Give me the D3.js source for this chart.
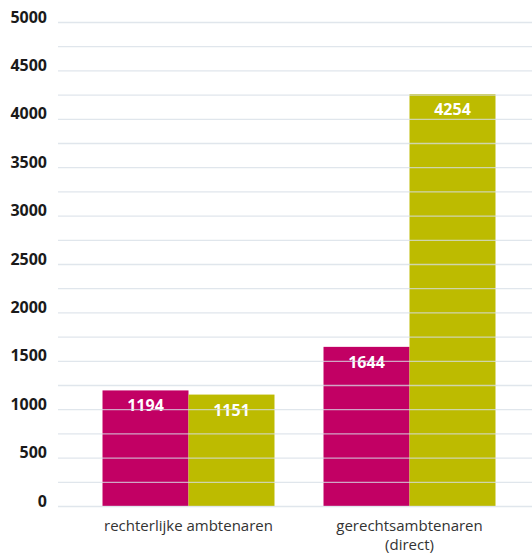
<!DOCTYPE html>
<html>
<head>
<meta charset="utf-8">
<script src="https://cdn.jsdelivr.net/npm/d3@7"></script>
<style>
  body { margin: 0; background: #fff; }
  text { font-family: "Open Sans", sans-serif; }
</style>
</head>
<body>
<div id="chart"></div>
<script>
// data
var categories = [["rechterlijke ambtenaren"], ["gerechtsambtenaren", "(direct)"]];
var seriesA = [1194, 1644];
var seriesB = [1151, 4254];
var yTicks = [0, 500, 1000, 1500, 2000, 2500, 3000, 3500, 4000, 4500, 5000];
var colors = ["#c20064", "#bdbb00"];

var width = 532, height = 557;

var svg = d3.select("#chart").append("svg")
    .attr("width", width)
    .attr("height", height);

var y = d3.scaleLinear().domain([0, 5000]).range([506, 22]);
var x = d3.scaleBand().domain(d3.range(categories.length)).range([78, 520]).paddingInner(0).paddingOuter(0);
var inner = d3.scaleBand().domain([0, 1]).range([0, x.bandwidth()]).paddingOuter(0.285);

// bars
var groups = svg.append("g").selectAll("g")
    .data(categories)
    .enter().append("g")
    .attr("transform", (d, i) => "translate(" + x(i) + ",0)");

groups.each(function(d, i) {
    var g = d3.select(this);
    [seriesA[i], seriesB[i]].forEach(function(v, s) {
        g.append("rect")
            .attr("x", inner(s))
            .attr("y", y(v))
            .attr("width", inner.bandwidth())
            .attr("height", y(0) - y(v))
            .style("fill", colors[s]);
    });
});

// gridlines, every 250, drawn over the bars
var gridVals = d3.range(0, 5001, 250);
svg.append("g").selectAll("line")
    .data(gridVals)
    .enter().append("line")
    .attr("x1", 58).attr("x2", 532)
    .attr("y1", d => y(d) + 0.5).attr("y2", d => y(d) + 0.5)
    .style("stroke", "#d6dde5")
    .style("stroke-opacity", 0.75)
    .style("stroke-width", 1.3);

// value labels
groups.each(function(d, i) {
    var g = d3.select(this);
    [seriesA[i], seriesB[i]].forEach(function(v, s) {
        g.append("text")
            .attr("x", inner(s) + inner.bandwidth() / 2)
            .attr("y", y(v) + 21)
            .attr("text-anchor", "middle")
            .style("fill", "#fff")
            .style("font-size", "16px")
            .style("font-weight", "bold")
            .text(v);
    });
});

// y axis labels
var yAxis = d3.axisLeft(y).tickValues(yTicks).tickFormat(d3.format("d")).tickSize(0).tickPadding(0);
var ya = svg.append("g")
    .attr("transform", "translate(47,0)")
    .call(yAxis);
ya.select(".domain").remove();
ya.selectAll("text")
    .attr("dy", "0")
    .style("font-family", "'Open Sans', sans-serif")
    .style("font-size", "16px")
    .style("font-weight", "bold")
    .style("fill", "#1a1a1a");

// category labels (one text per line)
categories.forEach(function(lines, i) {
    lines.forEach(function(line, k) {
        svg.append("text")
            .attr("x", x(i) + x.bandwidth() / 2)
            .attr("y", 531 + k * 19)
            .attr("text-anchor", "middle")
            .style("font-size", "15px")
            .style("fill", "#333")
            .text(line);
    });
});
</script>
</body>
</html>
